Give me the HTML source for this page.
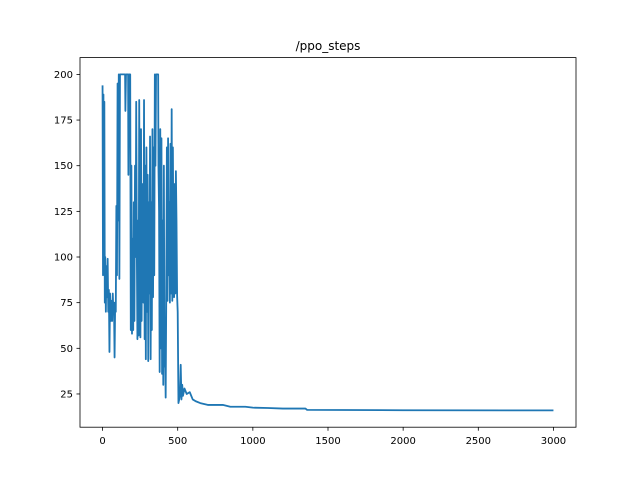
<!DOCTYPE html>
<html><head><meta charset="utf-8"><style>
html,body{margin:0;padding:0;background:#fff;}
svg text{font-family:"DejaVu Sans","Liberation Sans",sans-serif;}
</style></head><body>
<svg id="chart" width="640" height="480" xmlns="http://www.w3.org/2000/svg">
<rect width="640" height="480" fill="#fff"/>
<text x="328" y="50" font-size="12" text-anchor="middle">/ppo_steps</text>
<g id="plot"></g>
<rect x="80" y="57.6" width="496" height="369.6" fill="none" stroke="#000" stroke-width="0.8"/>
</svg>
<script>
const steps = [0,3,6,9,12,15,18,22,26,30,34,38,42,46,50,55,60,64,68,72,76,80,84,88,92,96,100,104,108,112,116,150,152,156,170,172,176,184,188,192,196,200,204,208,212,216,220,224,228,232,236,240,244,248,252,256,260,264,268,272,276,280,284,288,292,296,300,304,308,312,316,320,324,328,332,336,340,344,348,352,356,370,372,376,380,384,388,392,396,400,404,408,412,416,420,424,428,432,436,440,444,448,452,456,460,464,468,472,476,480,484,488,492,496,500,505,510,515,520,525,530,535,545,560,580,600,620,650,700,800,850,950,1000,1100,1200,1350,1360,1600,2000,3000];
const values = [194,90,189,100,185,75,100,70,95,78,99,70,82,48,80,65,76,65,80,70,75,45,75,70,128,90,195,120,200,88,200,200,180,200,200,145,200,200,60,150,58,110,60,130,65,150,100,185,105,55,120,57,186,100,56,170,65,140,92,75,186,55,150,44,160,70,145,43,130,80,166,44,130,60,170,78,160,90,200,150,200,200,150,125,37,170,50,165,36,120,30,150,40,50,23,80,160,76,165,90,130,75,162,80,181,76,160,100,78,140,80,147,120,79,70,20,22,25,41,22,30,24,28,25,26,22,21,20,19,19,18,18,17.5,17.3,17,17,16.3,16.2,16.1,16];
const xTicks = [0,500,1000,1500,2000,2500,3000];
const yTicks = [25,50,75,100,125,150,175,200];
const L=80,R=576,T=57.6,B=427.2;
const xmin=-150,xmax=3150,ymin=6.8,ymax=209.2;
const sx=v=>L+(v-xmin)/(xmax-xmin)*(R-L);
const sy=v=>B-(v-ymin)/(ymax-ymin)*(B-T);
const NS="http://www.w3.org/2000/svg";
const g=document.getElementById('plot');
function mk(t,a){const e=document.createElementNS(NS,t);for(const k in a)e.setAttribute(k,a[k]);g.appendChild(e);return e;}
xTicks.forEach(v=>{
  const l=mk('line',{x1:sx(v),x2:sx(v),y1:B,y2:B+3.5,stroke:'#000','stroke-width':0.8});
  
  
  const t=mk('text',{x:sx(v),y:B+17,'font-size':10,'text-anchor':'middle'});
  t.textContent=v;
  
  
});
yTicks.forEach(v=>{
  const l=mk('line',{x1:L-3.5,x2:L,y1:sy(v),y2:sy(v),stroke:'#000','stroke-width':0.8});
  
  
  const t=mk('text',{x:L-7,y:sy(v)+3.5,'font-size':10,'text-anchor':'end'});
  t.textContent=v;
  
  
});
const pts=steps.map((s,i)=>sx(s).toFixed(2)+','+sy(values[i]).toFixed(2)).join(' ');
const line=mk('polyline',{points:pts,fill:'none',stroke:'#1f77b4','stroke-width':1.8,'stroke-linejoin':'round'});


</script>
</body></html>
